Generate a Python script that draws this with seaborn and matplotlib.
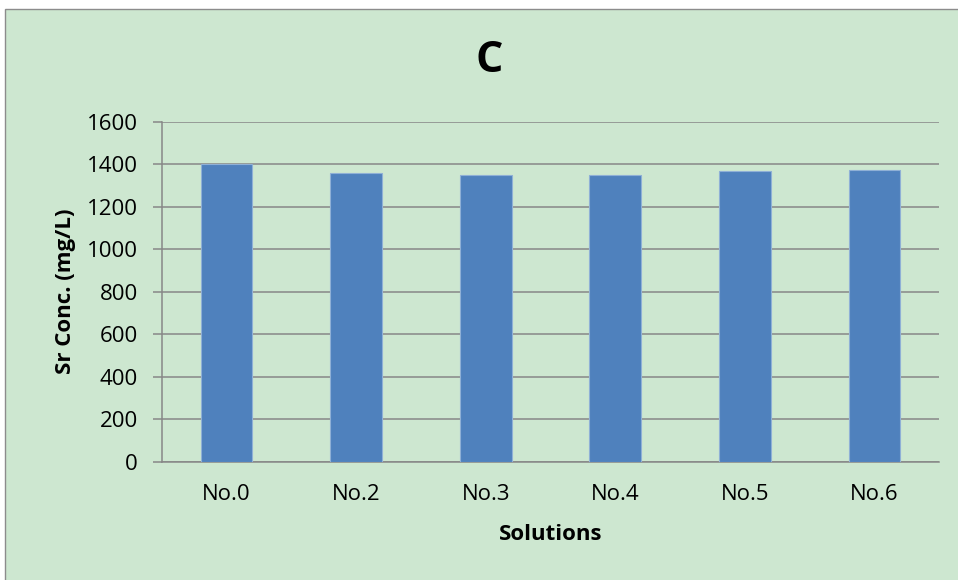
import matplotlib
matplotlib.use("Agg")
import matplotlib.pyplot as plt
from matplotlib.patches import Rectangle
import seaborn as sns
import pandas as pd

solutions = ["No.0", "No.2", "No.3", "No.4", "No.5", "No.6"]
sr_conc = [1400, 1360, 1350, 1350, 1370, 1374]
y_ticks = [0, 200, 400, 600, 800, 1000, 1200, 1400, 1600]

df = pd.DataFrame({"Solutions": solutions, "Sr": sr_conc})

sns.set_theme(style="white")
plt.rcParams["font.family"] = ["Open Sans", "DejaVu Sans"]

bg = "#CDE7D0"
grid_c = "#878787"

fig = plt.figure(figsize=(9.58, 5.80), dpi=100, facecolor="white")
# chart area panel with thin grey frame, kept behind the axes
fig.patches.append(Rectangle((4.5 / 958, -0.01), 1.0, 1.01 - 9.5 / 580, transform=fig.transFigure,
                             facecolor=bg, edgecolor="#8C8C8C", linewidth=1.0, zorder=-5))

ax = fig.add_axes([161.7 / 958, 1 - 461.7 / 580, (939.3 - 161.7) / 958, (461.7 - 121.7) / 580])
ax.set_facecolor(bg)
ax.patch.set_alpha(0)

sns.barplot(data=df, x="Solutions", y="Sr", color="#4F81BD", width=0.4,
            edgecolor="#8FB0D6", linewidth=0.8, saturation=1, ax=ax, zorder=3)

ax.set_ylim(0, 1600)
ax.set_yticks(y_ticks)
ax.set_xlim(-0.5, len(solutions) - 0.5)
ax.yaxis.grid(True, color=grid_c, linewidth=1.1, zorder=0)
ax.set_axisbelow(True)

for side in ["top", "right"]:
    ax.spines[side].set_visible(False)
ax.spines["left"].set_color(grid_c)
ax.spines["left"].set_linewidth(1.1)
ax.spines["bottom"].set_color(grid_c)
ax.spines["bottom"].set_linewidth(1.1)

ax.tick_params(axis="y", direction="out", length=6.3, width=1.1, color=grid_c,
               labelsize=16, pad=11, left=True)
ax.tick_params(axis="x", length=0, labelsize=16, pad=16)
for lbl in ax.get_xticklabels() + ax.get_yticklabels():
    lbl.set_color("black")

ax.set_xlabel("Solutions", fontsize=16, fontweight="bold", labelpad=14, color="black")
ax.set_ylabel("Sr Conc. (mg/L)", fontsize=16, fontweight="bold", labelpad=8, color="black")

fig.text(489 / 958, 1 - 60 / 580, "C", ha="center", va="center",
         fontsize=31, fontweight="bold", color="black")

fig.savefig("out.png", dpi=100, facecolor=fig.get_facecolor())
